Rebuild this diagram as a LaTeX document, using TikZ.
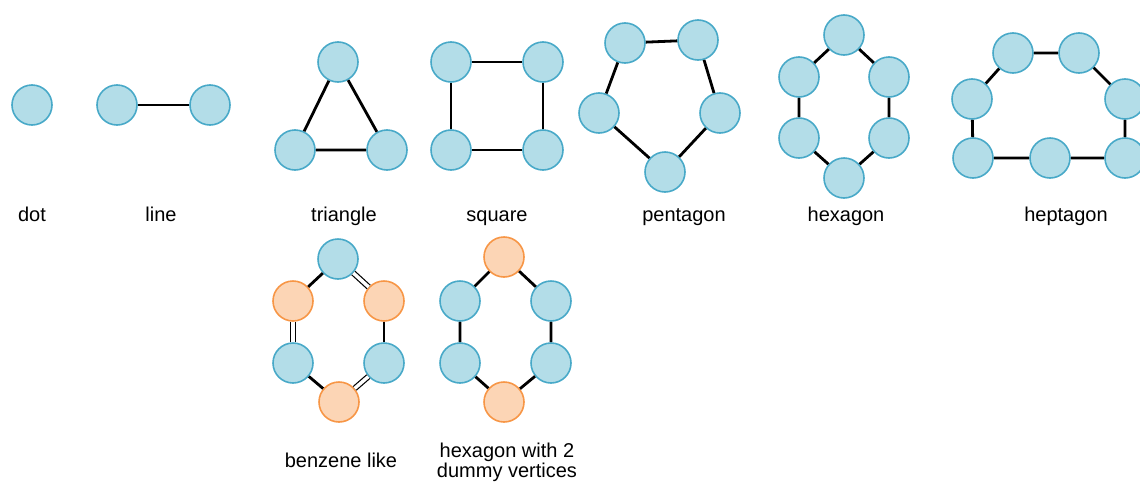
\documentclass[tikz,border=0pt]{standalone}
\usepackage{fontspec}
\setmainfont{Liberation Sans}
\definecolor{bfill}{HTML}{B3DDE8}
\definecolor{bdraw}{HTML}{48A9C8}
\definecolor{ofill}{HTML}{FCD5B5}
\definecolor{odraw}{HTML}{F79646}
\begin{document}
\begin{tikzpicture}[x=1pt,y=-1pt,
  bv/.style={circle,minimum size=40pt,inner sep=0pt,fill=bfill,draw=bdraw,line width=1.6pt},
  ov/.style={circle,minimum size=40pt,inner sep=0pt,fill=ofill,draw=odraw,line width=1.6pt},
  ed/.style={line width=2.8pt,black},
  db/.style={double=white,double distance=3.5pt,line width=1.2pt,black},
  lbl/.style={font=\fontsize{20}{20.5}\selectfont,align=center,inner sep=0pt,anchor=base}]
\useasboundingbox (0,0) rectangle (1140,482);
% dot
\node[bv] (d1) at (32,105) {};
\node[lbl] (tdot) at (32,221) {dot};
% line
\node[bv] (l1) at (117,105) {};
\node[bv] (l2) at (210,105) {};
\draw[ed] (l1) -- (l2);
\node[lbl] (tline) at (161,221) {line};
% triangle
\node[bv] (t1) at (338,62) {};
\node[bv] (t2) at (295,150) {};
\node[bv] (t3) at (387,150) {};
\draw[ed] (t1) -- (t2) (t2) -- (t3) (t3) -- (t1);
\node[lbl] (ttri) at (344,221) {triangle};
% square
\node[bv] (s1) at (451,62) {};
\node[bv] (s2) at (543,62) {};
\node[bv] (s3) at (543,150) {};
\node[bv] (s4) at (451,150) {};
\draw[ed] (s1) -- (s2) (s2) -- (s3) (s3) -- (s4) (s4) -- (s1);
\node[lbl] (tsq) at (497,221) {square};
% pentagon
\node[bv] (p1) at (625,43) {};
\node[bv] (p2) at (698,40) {};
\node[bv] (p3) at (720,113) {};
\node[bv] (p4) at (665,172) {};
\node[bv] (p5) at (599,113) {};
\draw[ed] (p1) -- (p2) (p2) -- (p3) (p3) -- (p4) (p4) -- (p5) (p5) -- (p1);
\node[lbl] (tpen) at (684,221) {pentagon};
% hexagon
\node[bv] (h1) at (844,35) {};
\node[bv] (h2) at (889,77) {};
\node[bv] (h3) at (889,138) {};
\node[bv] (h4) at (844,178) {};
\node[bv] (h5) at (799,138) {};
\node[bv] (h6) at (799,77) {};
\draw[ed] (h1) -- (h2) (h2) -- (h3) (h3) -- (h4) (h4) -- (h5) (h5) -- (h6) (h6) -- (h1);
\node[lbl] (thex) at (846,221) {hexagon};
% heptagon
\node[bv] (g1) at (1013,53) {};
\node[bv] (g2) at (1079,53) {};
\node[bv] (g3) at (1125,99) {};
\node[bv] (g4) at (1125,158) {};
\node[bv] (g5) at (1050,158) {};
\node[bv] (g6) at (973,158) {};
\node[bv] (g7) at (972,99) {};
\draw[ed] (g1) -- (g2) (g2) -- (g3) (g3) -- (g4) (g4) -- (g5) (g5) -- (g6) (g6) -- (g7) (g7) -- (g1);
\node[lbl] (thep) at (1066,221) {heptagon};
% benzene like
\node[bv] (b1) at (338,259) {};
\node[ov] (b2) at (384,301) {};
\node[bv] (b3) at (384,363) {};
\node[ov] (b4) at (339,402) {};
\node[bv] (b5) at (293,363) {};
\node[ov] (b6) at (293,301) {};
\draw[db] (b1) -- (b2);
\draw[ed] (b2) -- (b3);
\draw[db] (b3) -- (b4);
\draw[ed] (b4) -- (b5);
\draw[db] (b5) -- (b6);
\draw[ed] (b6) -- (b1);
\node[lbl] (tben) at (341,467) {benzene like};
% hexagon with dummy
\node[ov] (x1) at (504,257) {};
\node[bv] (x2) at (551,301) {};
\node[bv] (x3) at (551,363) {};
\node[ov] (x4) at (504,402) {};
\node[bv] (x5) at (460,363) {};
\node[bv] (x6) at (460,301) {};
\draw[ed] (x1) -- (x2) (x2) -- (x3) (x3) -- (x4) (x4) -- (x5) (x5) -- (x6) (x6) -- (x1);
\node[lbl,anchor=north] (tdum) at (507,442.5) {hexagon with 2\\dummy vertices};
\end{tikzpicture}
\end{document}
